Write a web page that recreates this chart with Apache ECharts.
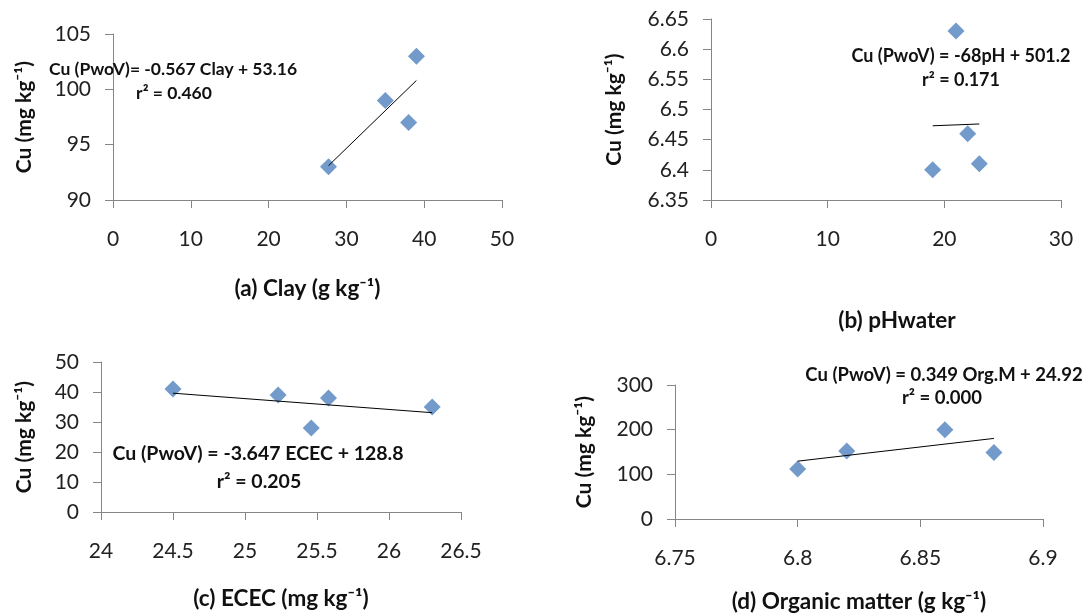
<!DOCTYPE html>
<html>
<head>
<meta charset="utf-8">
<script src="https://cdn.jsdelivr.net/npm/echarts@6/dist/echarts.min.js"></script>
<style>
  html, body { margin: 0; padding: 0; background: #fff; }
  #main { width: 1088px; height: 616px; }
</style>
</head>
<body>
<div id="main"></div>
<script>
// (a) clay
var clayX = [27.7, 35, 38, 39];
var clayCu = [93, 99, 97, 103];
var clayTrendX = [27.7, 39];
var clayTrendCu = [93.1, 100.8];
// (b) pH water
var phX = [19, 21, 22, 23];
var phCu = [6.40, 6.63, 6.46, 6.41];
var phTrendX = [19, 23];
var phTrendCu = [6.473, 6.476];
// (c) ECEC
var ececX = [24.5, 25.23, 25.46, 25.58, 26.3];
var ececCu = [41, 39, 28, 38, 35];
var ececTrendX = [24.5, 26.3];
var ececTrendCu = [39.6, 33.1];
// (d) organic matter
var omX = [6.8, 6.82, 6.86, 6.88];
var omCu = [112, 152, 200, 149];
var omTrendX = [6.8, 6.88];
var omTrendCu = [129.5, 180.4];

// axis ranges: [min, max, interval]
var xRanges = [[0, 50, 10], [0, 30, 10], [24, 26.5, 0.5], [6.75, 6.9, 0.05]];
var yRanges = [[90, 105, 5], [6.35, 6.65, 0.05], [0, 50, 10], [0, 300, 100]];
var xTitles = ['(a) Clay (g kg⁻¹)', '(b) pHwater', '(c) ECEC (mg kg⁻¹)', '(d) Organic matter (g kg⁻¹)'];
var yTitle = 'Cu (mg kg⁻¹)';

var FONT = 'Lato, "Open Sans", sans-serif';
var AXIS_COLOR = '#868686';

var grids = [
    {left: 113, top: 34, width: 389, height: 166},
    {left: 711, top: 19, width: 350, height: 181},
    {left: 101, top: 362, width: 360, height: 150},
    {left: 675, top: 385, width: 368, height: 134}
];
var xNameGap = [77, 109, 75, 71];
var yNameGap = [78, 86, 66, 80];

function pairs(xs, ys) {
    return xs.map(function (x, i) { return [x, ys[i]]; });
}

var xAxes = xRanges.map(function (r, i) {
    return {
        type: 'value', gridIndex: i, min: r[0], max: r[1], interval: r[2],
        splitLine: {show: false},
        axisLine: {lineStyle: {color: AXIS_COLOR, width: 1}},
        axisTick: {show: true, length: 8, lineStyle: {color: AXIS_COLOR}},
        axisLabel: {margin: 29, fontSize: 21, color: '#222', fontFamily: FONT},
        name: xTitles[i], nameLocation: 'middle', nameGap: xNameGap[i],
        nameTextStyle: {fontSize: 22.5, fontWeight: 'bold', color: '#111', fontFamily: FONT,
            padding: i === 1 ? [0, 0, 0, 22] : 0}
    };
});
var yAxes = yRanges.map(function (r, i) {
    return {
        type: 'value', gridIndex: i, min: r[0], max: r[1], interval: r[2],
        splitLine: {show: false},
        axisLine: {show: true, lineStyle: {color: AXIS_COLOR, width: 1}},
        axisTick: {show: true, length: 8, lineStyle: {color: AXIS_COLOR}},
        axisLabel: {margin: 22, fontSize: 21, color: '#222', fontFamily: FONT},
        name: yTitle, nameLocation: 'middle', nameGap: yNameGap[i], nameRotate: 90,
        nameTextStyle: {fontSize: 21, fontWeight: 'bold', color: '#111', fontFamily: FONT}
    };
});

var scatterSets = [pairs(clayX, clayCu), pairs(phX, phCu), pairs(ececX, ececCu), pairs(omX, omCu)];
var trendSets = [pairs(clayTrendX, clayTrendCu), pairs(phTrendX, phTrendCu),
                 pairs(ececTrendX, ececTrendCu), pairs(omTrendX, omTrendCu)];

var series = [];
scatterSets.forEach(function (d, i) {
    series.push({
        type: 'line', xAxisIndex: i, yAxisIndex: i, data: trendSets[i],
        showSymbol: false, silent: true,
        lineStyle: {color: '#000', width: 1}
    });
    series.push({
        type: 'scatter', xAxisIndex: i, yAxisIndex: i, data: d,
        symbol: 'diamond', symbolSize: 17,
        itemStyle: {color: '#4F81BD'}
    });
});

// equation labels
var eqs = [
    {x: 49, y: 69, align: 'left', size: 17.5, text: 'Cu (PwoV)= -0.567 Clay + 53.16'},
    {x: 174, y: 93, align: 'center', size: 17.5, text: 'r² = 0.460'},
    {x: 961, y: 56, align: 'center', size: 18, text: 'Cu (PwoV) = -68pH + 501.2'},
    {x: 961, y: 80, align: 'center', size: 18, text: 'r² = 0.171'},
    {x: 258, y: 454, align: 'center', size: 19.5, text: 'Cu (PwoV) = -3.647 ECEC + 128.8'},
    {x: 259, y: 482, align: 'center', size: 19.5, text: 'r² = 0.205'},
    {x: 944, y: 375, align: 'center', size: 18.5, text: 'Cu (PwoV) = 0.349 Org.M + 24.92'},
    {x: 942, y: 398, align: 'center', size: 18.5, text: 'r² = 0.000'}
];

var chart = echarts.init(document.getElementById('main'));
chart.setOption({
    backgroundColor: '#fff',
    animation: false,
    grid: grids,
    xAxis: xAxes,
    yAxis: yAxes,
    series: series,
    graphic: eqs.map(function (e) {
        return {
            type: 'text', x: e.x, y: e.y, z: 100,
            style: {
                text: e.text, fontSize: e.size, fontWeight: 'bold', fontFamily: FONT,
                fill: '#111', align: e.align, verticalAlign: 'middle'
            }
        };
    })
});
</script>
</body>
</html>
